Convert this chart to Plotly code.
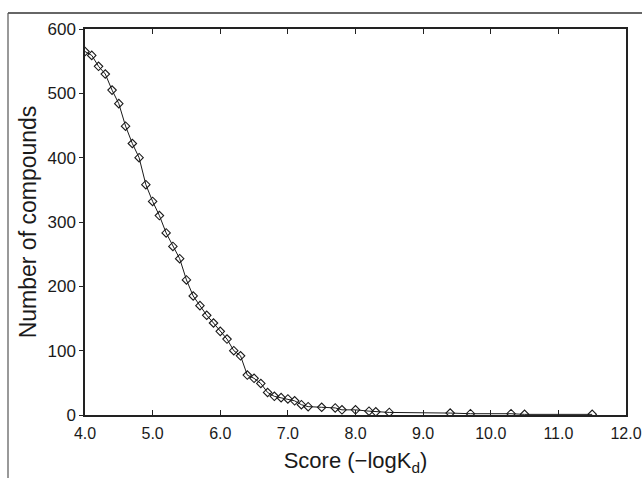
import plotly.graph_objects as go

scores = [4.0, 4.1, 4.2, 4.3, 4.4, 4.5, 4.6, 4.7, 4.8, 4.9,
          5.0, 5.1, 5.2, 5.3, 5.4, 5.5, 5.6, 5.7, 5.8, 5.9,
          6.0, 6.1, 6.2, 6.3, 6.4, 6.5, 6.6, 6.7, 6.8, 6.9,
          7.0, 7.1, 7.2, 7.3, 7.5, 7.7, 7.8, 8.0, 8.2, 8.3,
          8.5, 9.4, 9.7, 10.3, 10.5, 11.5]
counts = [565, 559, 542, 530, 505, 484, 449, 422, 400, 358,
          332, 310, 283, 262, 243, 210, 185, 170, 155, 143,
          130, 118, 100, 92, 62, 57, 49, 35, 29, 27,
          25, 22, 16, 13, 12, 11, 8, 8, 6, 5,
          4, 3, 2, 2, 1, 1]

x_ticks = [4, 5, 6, 7, 8, 9, 10, 11, 12]
x_tick_labels = ["4.0", "5.0", "6.0", "7.0", "8.0", "9.0", "10.0", "11.0", "12.0"]
y_ticks = [0, 100, 200, 300, 400, 500, 600]

FONT = "Liberation Sans, Arial, sans-serif"

fig = go.Figure()
fig.add_trace(go.Scatter(
    x=scores, y=counts, mode="lines+markers",
    line=dict(color="#1a1a1a", width=1),
    marker=dict(symbol="diamond-open", size=6.5, color="#1a1a1a",
                line=dict(width=1.1, color="#1a1a1a")),
    showlegend=False,
))

L, R, T, B = 85, 16, 29, 63
W, H = 642, 478
PW, PH = W - L - R, H - T - B

fig.update_layout(
    width=W, height=H,
    margin=dict(l=L, r=R, t=T, b=B),
    paper_bgcolor="white", plot_bgcolor="white",
    font=dict(family=FONT, color="#1a1a1a", size=17),
    xaxis=dict(
        range=[4, 12], tickvals=x_ticks, ticktext=x_tick_labels,
        ticks="inside", ticklen=5, tickcolor="#222", tickwidth=1,
        showline=True, linecolor="#222", linewidth=1.5, mirror="ticks",
        showgrid=False, zeroline=False, automargin=False,
        tickfont=dict(size=16), ticklabelstandoff=3, ticklabeloverflow="allow",
        title=dict(text="Score (\u2212logK<sub>d</sub>)", font=dict(size=22), standoff=12),
    ),
    yaxis=dict(
        range=[0, 600], tickvals=y_ticks,
        ticks="outside", ticklen=4, tickcolor="#222", tickwidth=1,
        showline=True, linecolor="#222", linewidth=1.5, mirror=True,
        showgrid=False, zeroline=False, automargin=False,
        tickfont=dict(size=17),
        title=dict(text="Number of compounds", font=dict(size=23), standoff=4),
    ),
    shapes=[
        dict(type="line", xref="paper", yref="paper",
             x0=(8 - L) / PW, x1=(W - L) / PW,
             y0=(H - B - 13) / PH, y1=(H - B - 13) / PH,
             line=dict(color="#333", width=1.5)),
        dict(type="line", xref="paper", yref="paper",
             x0=(8 - L) / PW, x1=(8 - L) / PW,
             y0=(H - B - 13) / PH, y1=-B / PH,
             line=dict(color="#555", width=1.2)),
    ],
)

fig.write_html("out.html", config={"displayModeBar": False},
               post_script="document.body.style.margin='0';")
